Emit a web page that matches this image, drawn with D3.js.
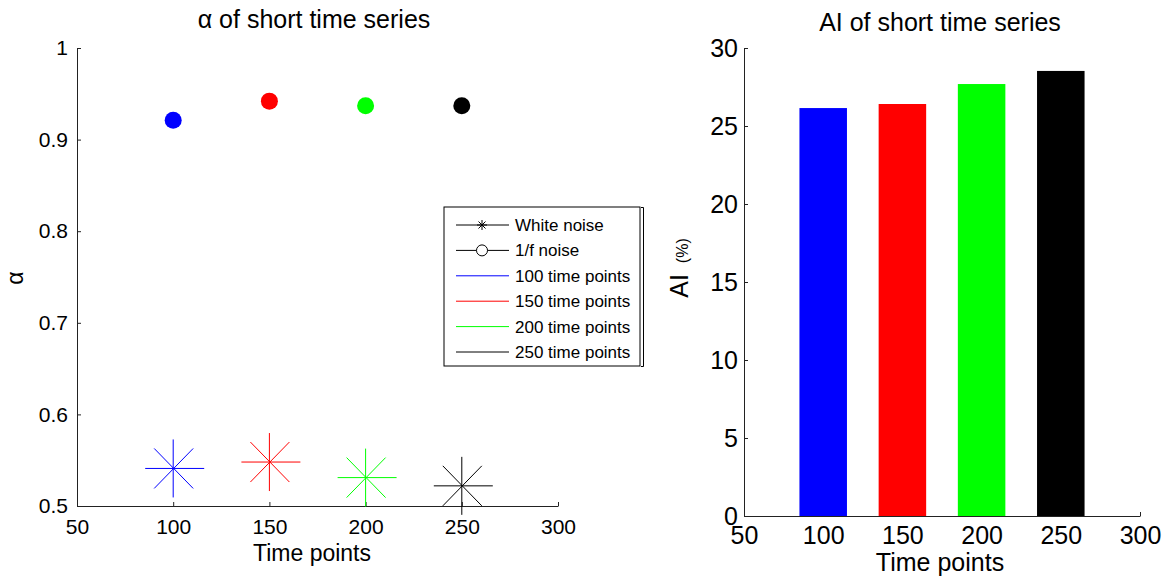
<!DOCTYPE html>
<html>
<head>
<meta charset="utf-8">
<script src="https://cdn.jsdelivr.net/npm/d3@7"></script>
<style>
  body { margin: 0; background: #fff; }
  text { font-family: "Liberation Sans", Arial, sans-serif; fill: #000; }
</style>
</head>
<body>
<svg id="chart" width="1168" height="582"></svg>
<script>
// data
const timePoints = [100, 150, 200, 250];
const seriesColors = ["#0000ff", "#ff0000", "#00ff00", "#000000"];
const alphaPink = [0.921, 0.942, 0.937, 0.937];   // 1/f noise (circles)
const alphaWhite = [0.541, 0.548, 0.531, 0.522];  // white noise (stars)
const aiValues = [26.15, 26.41, 27.69, 28.53];
const legendLabels = ["White noise", "1/f noise", "100 time points", "150 time points", "200 time points", "250 time points"];
const xTicks = [50, 100, 150, 200, 250, 300];
const alphaTicks = [0.5, 0.6, 0.7, 0.8, 0.9, 1];
const aiTicks = [0, 5, 10, 15, 20, 25, 30];

const svg = d3.select("#chart");

function styleAxis(g, size) {
  g.selectAll("path.domain").attr("stroke", "#222").attr("stroke-width", 1);
  g.selectAll(".tick line").attr("stroke", "#222");
  g.selectAll(".tick text").attr("font-size", size).attr("font-family", "Liberation Sans, Arial, sans-serif");
}

// ---------- left panel: alpha ----------
const xL = d3.scaleLinear().domain([50, 300]).range([77, 558]);
const yL = d3.scaleLinear().domain([0.5, 1]).range([506, 48]);

const axL = svg.append("g").attr("transform", "translate(0,506)")
  .call(d3.axisBottom(xL).tickValues(xTicks).tickFormat(d3.format("d")).tickSize(-4).tickSizeOuter(0).tickPadding(13));
const ayL = svg.append("g").attr("transform", "translate(77,0)")
  .call(d3.axisLeft(yL).tickValues(alphaTicks).tickFormat(d => d === 1 ? "1" : d3.format(".1f")(d)).tickSize(-4).tickSizeOuter(0).tickPadding(9));
styleAxis(axL, 21);
styleAxis(ayL, 21);

// ---------- right panel: AI ----------
const xR = d3.scaleLinear().domain([50, 300]).range([744, 1140]);
const yR = d3.scaleLinear().domain([0, 30]).range([516, 48]);

const axR = svg.append("g").attr("transform", "translate(0,516)")
  .call(d3.axisBottom(xR).tickValues(xTicks).tickFormat(d3.format("d")).tickSize(-4).tickSizeOuter(0).tickPadding(10));
const ayR = svg.append("g").attr("transform", "translate(744,0)")
  .call(d3.axisLeft(yR).tickValues(aiTicks).tickSize(-4).tickSizeOuter(0).tickPadding(6));
styleAxis(axR, 25);
styleAxis(ayR, 25);

// bars
const barW = 30;
svg.append("g").selectAll("rect").data(aiValues).join("rect")
  .attr("x", (d, i) => xR(timePoints[i] - barW / 2))
  .attr("width", (d, i) => xR(timePoints[i] + barW / 2) - xR(timePoints[i] - barW / 2))
  .attr("y", d => yR(d))
  .attr("height", d => yR(0) - yR(d))
  .attr("fill", (d, i) => seriesColors[i]);

// circles (1/f noise)
svg.append("g").selectAll("circle").data(alphaPink).join("circle")
  .attr("cx", (d, i) => xL(timePoints[i]))
  .attr("cy", d => yL(d))
  .attr("r", 8.5)
  .attr("fill", (d, i) => seriesColors[i]);

// stars (white noise)
const star = svg.append("g").selectAll("g").data(alphaWhite).join("g")
  .attr("transform", (d, i) => `translate(${xL(timePoints[i])},${yL(d)})`)
  .attr("stroke", (d, i) => seriesColors[i])
  .attr("stroke-width", 1);
const arms = [[-28, 0, 31, 0], [0, -29, 0, 29], [-19, -20, 20, 20], [-19, 20, 20, -20]];
arms.forEach(a => {
  star.append("line").attr("x1", a[0]).attr("y1", a[1]).attr("x2", a[2]).attr("y2", a[3]);
});

// titles and labels
svg.append("text").attr("x", 314).attr("y", 28).attr("text-anchor", "middle").attr("font-size", 25)
  .text("α of short time series");
svg.append("text").attr("x", 940).attr("y", 31).attr("text-anchor", "middle").attr("font-size", 25)
  .text("AI of short time series");
svg.append("text").attr("x", 312).attr("y", 561).attr("text-anchor", "middle").attr("font-size", 23)
  .text("Time points");
svg.append("text").attr("x", 940).attr("y", 571).attr("text-anchor", "middle").attr("font-size", 25)
  .text("Time points");
svg.append("text").attr("transform", "translate(23,278) rotate(-90)").attr("text-anchor", "middle").attr("font-size", 23)
  .text("α");
const aiLab = svg.append("text").attr("transform", "translate(688,268) rotate(-90)").attr("text-anchor", "middle");
aiLab.append("tspan").attr("font-size", 25).text("AI ");
aiLab.append("tspan").attr("font-size", 16).attr("dx", 4).text("(%)");

// legend
const leg = svg.append("g");
leg.append("rect").attr("x", 444).attr("y", 207).attr("width", 196).attr("height", 159)
  .attr("fill", "#fff").attr("stroke", "#000").attr("stroke-width", 1);
leg.append("path").attr("d", "M641,207.5H643.5V366.5H641").attr("fill", "none").attr("stroke", "#000");
const legColors = ["#000", "#000"].concat(seriesColors);
const rowY = d3.scaleLinear().domain([0, 5]).range([225, 352]);
legendLabels.forEach((lab, i) => {
  const y = rowY(i);
  leg.append("line").attr("x1", 456).attr("x2", 509).attr("y1", y).attr("y2", y)
    .attr("stroke", legColors[i]).attr("stroke-width", 1);
  leg.append("text").attr("x", 515).attr("y", y + 6).attr("font-size", 17).text(lab);
});
// legend markers
const s0 = leg.append("g").attr("transform", `translate(482,${rowY(0)})`).attr("stroke", "#000");
[[-5, 0, 5, 0], [0, -5, 0, 5], [-3.5, -3.5, 3.5, 3.5], [-3.5, 3.5, 3.5, -3.5]].forEach(a => {
  s0.append("line").attr("x1", a[0]).attr("y1", a[1]).attr("x2", a[2]).attr("y2", a[3]);
});
leg.append("circle").attr("cx", 482).attr("cy", rowY(1)).attr("r", 5.5)
  .attr("fill", "#fff").attr("stroke", "#000");
</script>
</body>
</html>
